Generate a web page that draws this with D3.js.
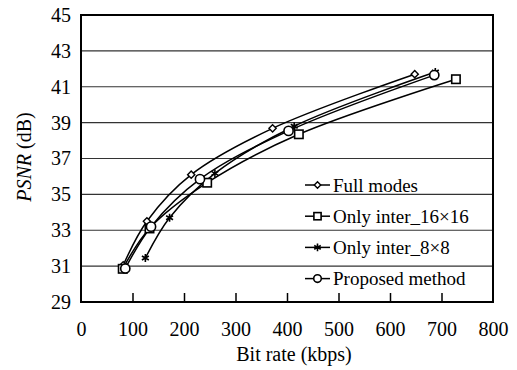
<!DOCTYPE html>
<html>
<head>
<meta charset="utf-8">
<script src="https://cdn.jsdelivr.net/npm/d3@7"></script>
<style>
  body { margin: 0; background: #fff; }
</style>
</head>
<body>
<div id="chart"></div>
<script>
// series (bit rate kbps, PSNR dB)
const fullRate = [82, 128, 214, 372, 648];
const fullPsnr = [31.05, 33.5, 36.1, 38.68, 41.7];
const inter16Rate = [81, 133, 245, 423, 728];
const inter16Psnr = [30.85, 33.1, 35.65, 38.35, 41.42];
const inter8Rate = [125, 172, 260, 414, 688];
const inter8Psnr = [31.45, 33.7, 36.17, 38.8, 41.82];
const propRate = [86, 136, 231, 403, 686];
const propPsnr = [30.87, 33.2, 35.85, 38.54, 41.65];

const xTicks = [0, 100, 200, 300, 400, 500, 600, 700, 800];
const yTicks = [29, 31, 33, 35, 37, 39, 41, 43, 45];

const seriesNames = ['Full modes', 'Only inter_16\u00d716', 'Only inter_8\u00d78', 'Proposed method'];
const seriesMarkers = ['diamond', 'square', 'star', 'circle'];

const FONT = '"Liberation Serif", "DejaVu Serif", "Noto Serif", serif';

const width = 517, height = 370;
const margin = { top: 15, right: 24, bottom: 68, left: 81 };

const svg = d3.select('#chart').append('svg')
  .attr('width', width)
  .attr('height', height)
  .style('font-family', FONT);

const x = d3.scaleLinear().domain([0, 800]).range([margin.left, width - margin.right]);
const y = d3.scaleLinear().domain([29, 45]).range([height - margin.bottom, margin.top]);

// gridlines
svg.append('g')
  .selectAll('line')
  .data(yTicks.slice(1, -1))
  .join('line')
  .attr('x1', x(0)).attr('x2', x(800))
  .attr('y1', d => y(d)).attr('y2', d => y(d))
  .attr('stroke', '#333').attr('stroke-width', 1.1);

// x axis: ticks pointing in
const xAxis = svg.append('g')
  .attr('transform', `translate(0, ${y(29)})`)
  .call(d3.axisBottom(x).tickValues(xTicks).tickSizeInner(-9).tickSizeOuter(0).tickPadding(20));
xAxis.select('.domain').remove();
xAxis.selectAll('.tick line').attr('stroke', '#000').attr('stroke-width', 1.5)
  .filter(d => d === 0 || d === 800).remove();

// y axis labels
const yAxis = svg.append('g')
  .attr('transform', `translate(${x(0)}, 0)`)
  .call(d3.axisLeft(y).tickValues(yTicks).tickSize(0).tickPadding(10));
yAxis.select('.domain').remove();

svg.selectAll('.tick text')
  .style('font-family', FONT).style('font-size', '20px').attr('fill', '#000');

// frame
svg.append('rect')
  .attr('x', x(0)).attr('y', y(45))
  .attr('width', x(800) - x(0)).attr('height', y(29) - y(45))
  .attr('fill', 'none').attr('stroke', '#000').attr('stroke-width', 2);

// axis titles
svg.append('text')
  .attr('x', 294).attr('y', 361)
  .attr('text-anchor', 'middle')
  .style('font-family', FONT).style('font-size', '20px')
  .text('Bit rate (kbps)');

const yt = svg.append('text')
  .attr('transform', `translate(31, ${157}) rotate(-90)`)
  .attr('text-anchor', 'middle')
  .style('font-family', FONT).style('font-size', '20px');
yt.append('tspan').attr('font-style', 'italic').text('PSNR');
yt.append('tspan').text(' (dB)');

// markers
function drawMarker(g, type, cx, cy, s) {
  if (type === 'diamond') {
    g.append('path')
      .attr('d', `M${cx},${cy - s}L${cx + s},${cy}L${cx},${cy + s}L${cx - s},${cy}Z`)
      .attr('fill', '#fff').attr('stroke', '#000').attr('stroke-width', 1.4);
  } else if (type === 'square') {
    g.append('rect')
      .attr('x', cx - s).attr('y', cy - s).attr('width', 2 * s).attr('height', 2 * s)
      .attr('fill', '#fff').attr('stroke', '#000').attr('stroke-width', 1.6);
  } else if (type === 'circle') {
    g.append('circle')
      .attr('cx', cx).attr('cy', cy).attr('r', s)
      .attr('fill', '#fff').attr('stroke', '#000').attr('stroke-width', 1.6);
  } else {
    const p = d3.path();
    for (let k = 0; k < 3; k++) {
      const a = Math.PI / 2 + k * Math.PI / 3;
      p.moveTo(cx + s * Math.cos(a), cy + s * Math.sin(a));
      p.lineTo(cx - s * Math.cos(a), cy - s * Math.sin(a));
    }
    g.append('path').attr('d', p.toString())
      .attr('stroke', '#000').attr('stroke-width', 1.6).attr('fill', 'none');
  }
}

const series = [
  [fullRate, fullPsnr],
  [inter16Rate, inter16Psnr],
  [inter8Rate, inter8Psnr],
  [propRate, propPsnr]
];
const markerSize = [3.6, 4.2, 4, 4.6];

const line = d3.line()
  .x(d => x(d[0]))
  .y(d => y(d[1]))
  .curve(d3.curveCatmullRom.alpha(0.5));

const plot = svg.append('g');
series.forEach(([rates, psnr], i) => {
  const pts = rates.map((r, j) => [r, psnr[j]]);
  plot.append('path')
    .datum(pts)
    .attr('d', line)
    .attr('fill', 'none').attr('stroke', '#000').attr('stroke-width', 1.5);
});
series.forEach(([rates, psnr], i) => {
  const g = plot.append('g');
  rates.forEach((r, j) => drawMarker(g, seriesMarkers[i], x(r), y(psnr[j]), markerSize[i]));
});

// legend
const legend = svg.append('g');
seriesNames.forEach((name, i) => {
  const cy = 185 + i * 31.2;
  legend.append('line')
    .attr('x1', 305).attr('x2', 330).attr('y1', cy).attr('y2', cy)
    .attr('stroke', '#000').attr('stroke-width', 1.5);
  drawMarker(legend, seriesMarkers[i], 317.5, cy, [3.2, 3.6, 3.8, 3.8][i]);
  legend.append('text')
    .attr('x', 333).attr('y', cy + 6.5)
    .style('font-family', FONT).style('font-size', '19px')
    .text(name);
});
</script>
</body>
</html>
